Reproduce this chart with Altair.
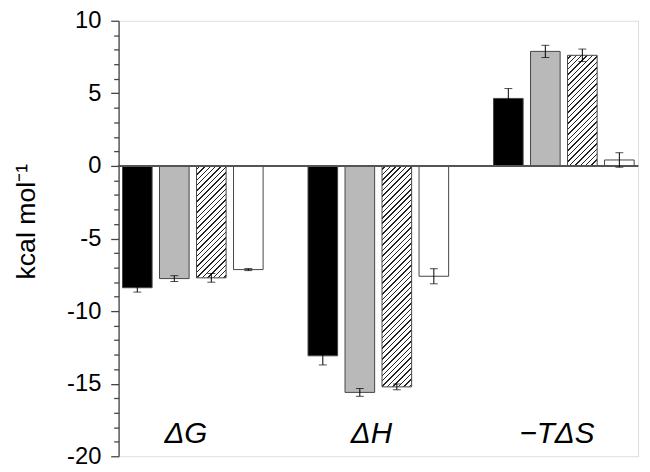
import altair as alt
import pandas as pd

# ---- data ----
groups = ["ΔG", "ΔH", "−TΔS"]
series = ["A", "B", "C", "D"]          # black, stippled grey, hatched, white
vals_A = [-8.39, -13.08, 4.65]
vals_B = [-7.76, -15.60, 7.89]
vals_C = [-7.71, -15.22, 7.62]
vals_D = [-7.14, -7.60, 0.41]
errs_A = [0.30, 0.63, 0.68]
errs_B = [0.20, 0.27, 0.42]
errs_C = [0.30, 0.20, 0.43]
errs_D = [0.07, 0.52, 0.50]
y_ticks = [-20, -15, -10, -5, 0, 5, 10]

rows = []
for s, vs, es in zip(series, [vals_A, vals_B, vals_C, vals_D],
                     [errs_A, errs_B, errs_C, errs_D]):
    for g, v, e in zip(groups, vs, es):
        rows.append({"group": g, "series": s, "value": v,
                     "lo": v - e, "hi": v + e})
df = pd.DataFrame(rows)
labels = pd.DataFrame({"group": groups})

# ---- layout / style ----
W, H = 526, 441
ymin, ymax = -20, 10
ppu = H / (ymax - ymin)
pi_g, po_g = 0.242, 0.021
pi_s = 0.2
step = W / (3 - pi_g + 2 * po_g)
band = step * (1 - pi_g)
bar_w = band / (4 - pi_s) * (1 - pi_s)

FONT = "Liberation Sans"
EDGE = "#444444"

xenc = alt.X("group:N", scale=alt.Scale(domain=groups, paddingInner=pi_g,
                                        paddingOuter=po_g), axis=None)
xoff = alt.XOffset("series:N", scale=alt.Scale(domain=series,
                                               paddingInner=pi_s,
                                               paddingOuter=0))
yscale = alt.Scale(domain=[ymin, ymax], nice=False, zero=False)

all_ticks = list(range(ymin, ymax + 1))
yaxis = alt.Axis(
    title="kcal mol⁻¹", values=all_ticks, grid=False, labelOverlap=False,
    labelExpr="datum.value % 5 === 0 ? toString(datum.value) : ''",
    labelFont=FONT, labelFontSize=24, labelColor="black", labelPadding=10,
    tickSize={"condition": {"test": "datum.value % 5 === 0", "value": 8},
              "value": 5},
    tickColor=EDGE, tickWidth=1.3, domainColor=EDGE, domainWidth=1.3,
    titleFont=FONT, titleFontSize=27, titleFontWeight="normal",
    titleColor="black", titleX=-93, titleY=203, titleAlign="center",
    titleBaseline="middle", titleAngle=-90,
)


def Y(field):
    return alt.Y(field, scale=yscale, axis=yaxis)


base = alt.Chart(df)

solid = base.transform_filter("datum.series !== 'C'").mark_bar(
    stroke=EDGE, strokeWidth=1
).encode(
    x=xenc, xOffset=xoff,
    y=Y("value:Q"),
    y2=alt.datum(0),
    fill=alt.Fill("series:N", scale=alt.Scale(
        domain=["A", "B", "D"], range=["#000000", "#b9b9b9", "#ffffff"]),
        legend=None),
)


def hatch_gradient(h, w, period=5.5, line=1.5):
    k = (w + h) / (w * w + h * h)
    total = w + h
    stops = [alt.GradientStop(offset=0, color="white")]
    pos = period / 2
    while pos < total:
        s = pos / total
        e = min((pos + line) / total, 1.0)
        stops += [alt.GradientStop(offset=s, color="white"),
                  alt.GradientStop(offset=s, color="#222222"),
                  alt.GradientStop(offset=e, color="#222222"),
                  alt.GradientStop(offset=e, color="white")]
        pos += period
    stops.append(alt.GradientStop(offset=1, color="white"))
    return alt.LinearGradient(gradient="linear", stops=stops,
                              x1=0, y1=0, x2=w * k, y2=h * k)


hatched_layers = []
for g, v in zip(groups, vals_C):
    h = abs(v) * ppu
    grad = hatch_gradient(h, bar_w)
    hatched_layers.append(
        alt.Chart(df).transform_filter(
            f"datum.series === 'C' && datum.group === '{g}'"
        ).mark_bar(fill=grad, stroke=EDGE, strokeWidth=1).encode(
            x=xenc, xOffset=xoff,
            y=Y("value:Q"),
            y2=alt.datum(0),
        )
    )

zero = alt.Chart(df).mark_rule(color="#555555", strokeWidth=1.5).encode(
    y=Y("z:Q")
).transform_calculate(z="0")

err = base.mark_rule(color="black", strokeWidth=1).encode(
    x=xenc, xOffset=xoff, y=Y("lo:Q"), y2="hi:Q")
cap_lo = base.mark_tick(color="black", size=8, thickness=1).encode(
    x=xenc, xOffset=xoff, y=Y("lo:Q"))
cap_hi = base.mark_tick(color="black", size=8, thickness=1).encode(
    x=xenc, xOffset=xoff, y=Y("hi:Q"))

cat = alt.Chart(labels).mark_text(
    font=FONT, fontSize=30, fontStyle="italic", color="black",
    align="center", baseline="middle", dx=-7
).encode(x=xenc, y=alt.datum(-18.45, axis=yaxis), text="group:N")

chart = alt.layer(solid, *hatched_layers, zero, err, cap_lo, cap_hi, cat
                  ).properties(
    width=W, height=H, autosize="none",
    padding={"left": 112, "top": 10, "right": 4, "bottom": 12},
).configure_view(stroke=None, strokeWidth=0).configure(background="white")

chart.save("out.html", embed_options={"renderer": "svg", "actions": False})
